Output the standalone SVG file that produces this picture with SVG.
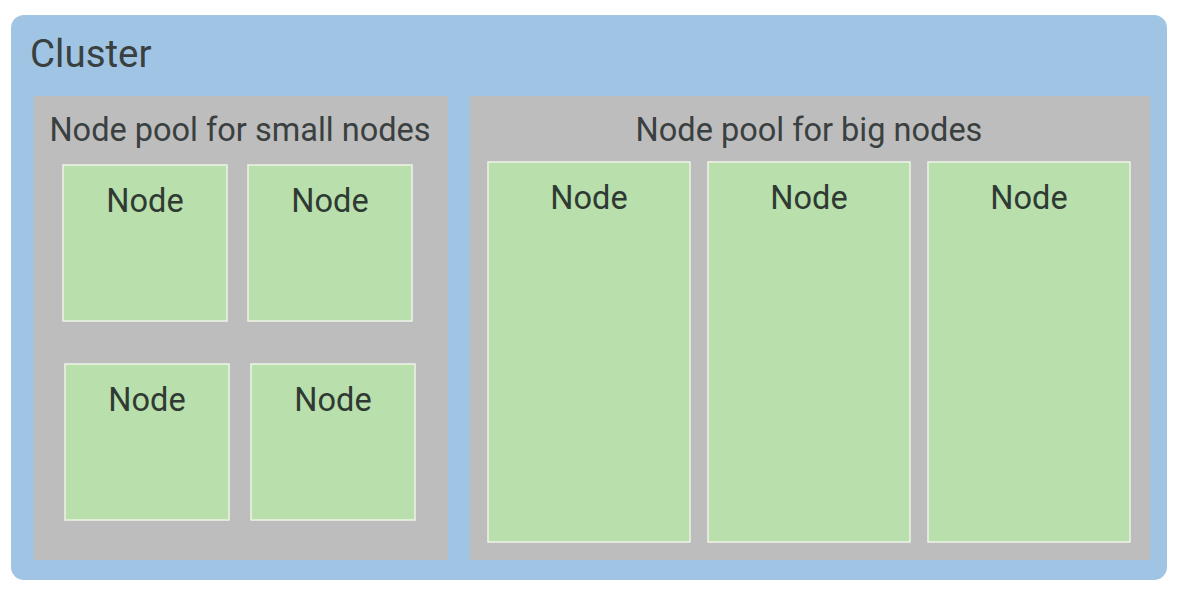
<svg xmlns="http://www.w3.org/2000/svg" width="1179" height="590" viewBox="0 0 1179 590">
<style>
.pool{fill:#bdbdbd}
.node{fill:#b9dfac;stroke:#eef3e6;stroke-width:1.5}
.t{font-family:Roboto,"Liberation Sans",sans-serif;fill:#3a4040}
.nt{font-family:Roboto,"Liberation Sans",sans-serif;fill:#2f3a33;font-size:32.5px;text-anchor:middle}
</style>
<rect x="0" y="0" width="1179" height="590" fill="#ffffff"/>
<g id="cluster">
<rect x="11" y="15" width="1156" height="565" rx="13" fill="#a0c4e4"/>
<text class="t" x="30" y="67" font-size="38.5">Cluster</text>
</g>
<g id="pool-small">
<rect class="pool" x="34" y="96" width="414" height="464"/>
<text class="t" x="240" y="141" font-size="32.5" text-anchor="middle">Node pool for small nodes</text>
</g>
<g id="pool-big">
<rect class="pool" x="470" y="96" width="680" height="464"/>
<text class="t" x="809" y="141" font-size="32.5" text-anchor="middle">Node pool for big nodes</text>
</g>
<g id="node-s1"><rect class="node" x="63" y="165" width="164" height="156"/><text class="nt" x="145" y="212">Node</text></g>
<g id="node-s2"><rect class="node" x="248" y="165" width="164" height="156"/><text class="nt" x="330" y="212">Node</text></g>
<g id="node-s3"><rect class="node" x="65" y="364" width="164" height="156"/><text class="nt" x="147" y="411">Node</text></g>
<g id="node-s4"><rect class="node" x="251" y="364" width="164" height="156"/><text class="nt" x="333" y="411">Node</text></g>
<g id="node-b1"><rect class="node" x="488" y="162" width="202" height="380"/><text class="nt" x="589" y="209">Node</text></g>
<g id="node-b2"><rect class="node" x="708" y="162" width="202" height="380"/><text class="nt" x="809" y="209">Node</text></g>
<g id="node-b3"><rect class="node" x="928" y="162" width="202" height="380"/><text class="nt" x="1029" y="209">Node</text></g>
<g id="connectors"></g>
</svg>
